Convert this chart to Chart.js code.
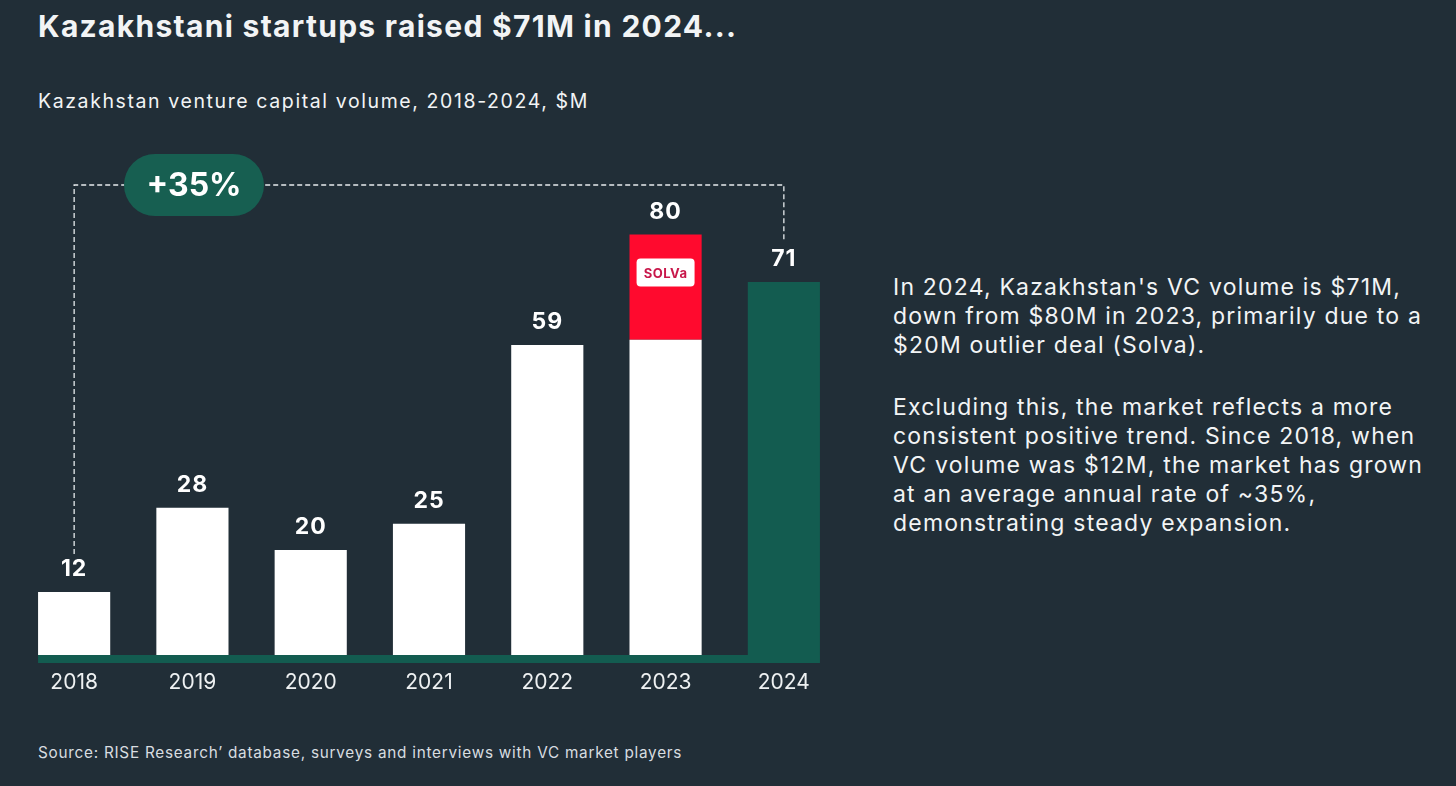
<!DOCTYPE html>
<html>
<head>
<meta charset="utf-8">
<script src="https://cdn.jsdelivr.net/npm/chart.js@4.4.1/dist/chart.umd.min.js"></script>
<style>
  html, body { margin: 0; padding: 0; }
  body {
    width: 1456px; height: 786px; overflow: hidden; position: relative;
    background: #212e37; color: #f2f4f5; font-family: Inter, "Noto Sans", sans-serif;
  }
  #title { position: absolute; left: 38px; top: 8px; font-size: 30px; font-weight: 700; margin: 0; white-space: nowrap; letter-spacing: 1.3px; }
  #subtitle { position: absolute; left: 38px; top: 89px; font-size: 19.5px; white-space: nowrap; letter-spacing: 1.6px; }
  #note { position: absolute; left: 893px; top: 273px; width: 560px; font-size: 23px; line-height: 29px; letter-spacing: 1.2px; }
  #note p { margin: 0 0 33px 0; }
  #source { position: absolute; left: 38px; top: 743px; font-size: 15.3px; color: #d8dde0; white-space: nowrap; letter-spacing: 0.75px; }
  #wrap { position: absolute; left: 0; top: 0; width: 870px; height: 720px; }
</style>
</head>
<body>
<h1 id="title">Kazakhstani startups raised $71M in 2024...</h1>
<div id="subtitle">Kazakhstan venture capital volume, 2018-2024, $M</div>
<div id="wrap"><canvas id="myChart"></canvas></div>
<div id="note">
  <p>In 2024, Kazakhstan's VC volume is $71M,<br>down from $80M in 2023, primarily due to a<br>$20M outlier deal (Solva).</p>
  <p>Excluding this, the market reflects a more<br>consistent positive trend. Since 2018, when<br>VC volume was $12M, the market has grown<br>at an average annual rate of ~35%,<br>demonstrating steady expansion.</p>
</div>
<div id="source">Source: RISE Research’ database, surveys and interviews with VC market players</div>

<script>
'use strict'

const years = ['2018', '2019', '2020', '2021', '2022', '2023', '2024']
const baseVolume = [12, 28, 20, 25, 59, 60, 71]
const solvaDeal = [0, 0, 0, 0, 0, 20, 0]
const totals = [12, 28, 20, 25, 59, 80, 71]
const growthLabel = '+35%'

const WHITE = '#ffffff'
const GREEN = '#135c50'
const RED = '#ff0a2e'
const FONT = 'Inter, "Noto Sans", sans-serif'

const baseColors = years.map((y, i) => i === years.length - 1 ? GREEN : WHITE)

// green strip under the bars + value labels + solva tag
const decorPlugin = {
  id: 'decor',
  beforeDatasetsDraw(chart) {
    const c = chart.ctx
    const bars = chart.getDatasetMeta(0).data
    const first = bars[0], last = bars[bars.length - 1]
    const bottom = chart.scales.y.getPixelForValue(0)
    c.save()
    c.fillStyle = GREEN
    c.fillRect(first.x - first.width / 2, bottom, (last.x + last.width / 2) - (first.x - first.width / 2), 8)
    c.restore()
  },
  afterDatasetsDraw(chart) {
    const c = chart.ctx
    const bars = chart.getDatasetMeta(0).data
    const y = chart.scales.y
    c.save()
    c.fillStyle = WHITE
    c.font = `bold 23px ${FONT}`
    c.letterSpacing = '1px'
    c.textAlign = 'center'
    c.textBaseline = 'middle'
    totals.forEach((t, i) => {
      c.fillText(String(t), bars[i].x, y.getPixelForValue(t) - 23)
    })

    // solva logo on the red segment
    const solvaBar = chart.getDatasetMeta(1).data[5]
    const cx = solvaBar.x
    const cy = y.getPixelForValue(totals[5]) + 38
    c.fillStyle = WHITE
    c.beginPath()
    c.roundRect(cx - 29, cy - 14, 58, 28, 4)
    c.fill()
    c.fillStyle = '#c8174a'
    c.font = `bold 13px ${FONT}`
    c.letterSpacing = '0.5px'
    c.fillText('SOLVa', cx, cy + 1)

    // dashed bracket from 2018 to 2024
    const lineY = 185
    const xa = bars[0].x, xb = bars[bars.length - 1].x
    c.strokeStyle = '#e8ecee'
    c.lineWidth = 1.3
    c.setLineDash([5, 3])
    c.beginPath()
    c.moveTo(xa, y.getPixelForValue(totals[0]) - 38)
    c.lineTo(xa, lineY)
    c.lineTo(xb, lineY)
    c.lineTo(xb, y.getPixelForValue(totals[6]) - 40)
    c.stroke()
    c.setLineDash([])

    // badge
    c.fillStyle = '#175f51'
    c.beginPath()
    c.roundRect(124, lineY - 31, 140, 62, 31)
    c.fill()
    c.fillStyle = WHITE
    c.font = `bold 32px ${FONT}`
    c.letterSpacing = '0px'
    c.fillText(growthLabel, 194, lineY + 1)
    c.restore()
  }
}

const ctx = document.getElementById('myChart')

new Chart(ctx, {
  type: 'bar',
  data: {
    labels: years,
    datasets: [
      {
        label: 'VC volume',
        data: baseVolume,
        backgroundColor: baseColors,
        borderWidth: 0,
        barPercentage: 0.61,
        categoryPercentage: 1
      },
      {
        label: 'Solva deal',
        data: solvaDeal,
        backgroundColor: RED,
        borderWidth: 0,
        barPercentage: 0.61,
        categoryPercentage: 1
      }
    ]
  },
  options: {
    responsive: true,
    maintainAspectRatio: false,
    animation: false,
    layout: { padding: { left: 15, right: 27, top: 129.5, bottom: 0 } },
    plugins: {
      legend: { display: false },
      tooltip: { enabled: false }
    },
    scales: {
      x: {
        stacked: true,
        grid: { display: false, drawTicks: false },
        border: { display: false },
        ticks: {
          color: '#eef1f2',
          font: { size: 21, family: FONT },
          padding: 15
        },
        afterFit: (s) => { s.height = 65 }
      },
      y: {
        stacked: true,
        display: false,
        min: 0,
        max: 100
      }
    }
  },
  plugins: [decorPlugin]
})
</script>
</body>
</html>
